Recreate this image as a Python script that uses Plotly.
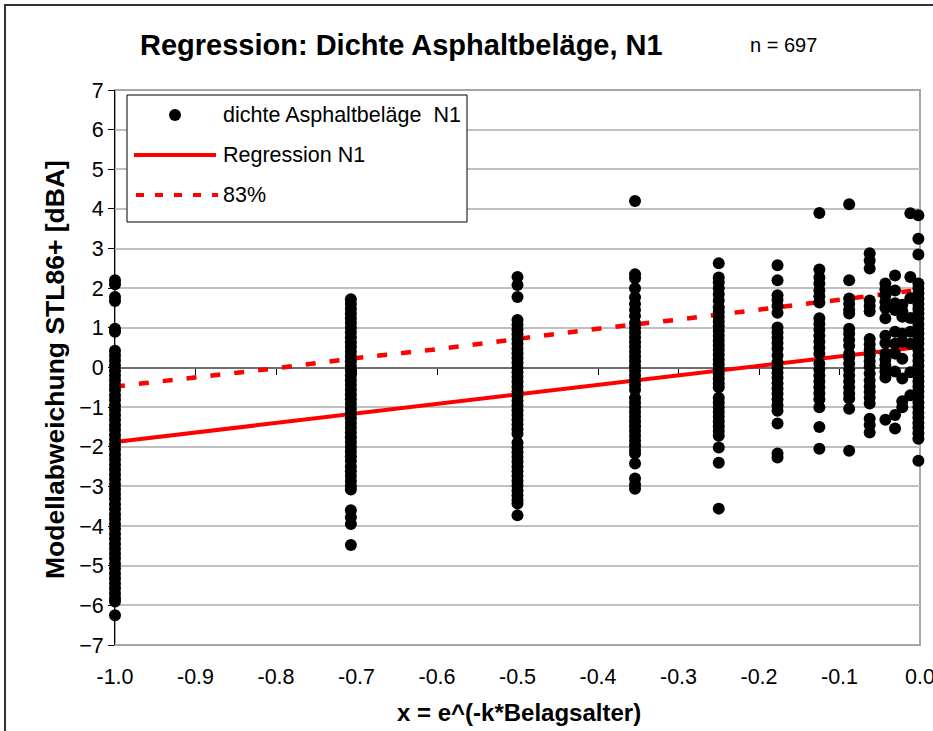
import plotly.graph_objects as go

# ---------------- data ----------------
COL_X = [-1.0, -0.707, -0.5, -0.354, -0.25, -0.177, -0.125, -0.088, -0.0625,
         -0.043, -0.031, -0.022, -0.012, -0.002]

Y_C1 = [2.2, 2.1, 1.78, 1.68, 0.98, 0.9, 0.42, 0.3, 0.18, 0.05, -0.08, -0.2, -0.32,
        -0.45, -0.57, -0.7, -0.82, -0.95, -1.07, -1.2, -1.32, -1.45, -1.57, -1.7,
        -1.82, -1.95, -2.07, -2.2, -2.32, -2.45, -2.57, -2.7, -2.82, -2.95, -3.07,
        -3.2, -3.32, -3.45, -3.57, -3.7, -3.82, -3.95, -4.07, -4.2, -4.32, -4.45,
        -4.57, -4.7, -4.82, -4.95, -5.07, -5.2, -5.32, -5.45, -5.57, -5.7, -5.82,
        -5.9, -6.25]
Y_C2 = [1.72, 1.6, 1.48, 1.36, 1.24, 1.12, 1.0, 0.88, 0.76, 0.64, 0.52, 0.4, 0.28,
        0.16, 0.04, -0.08, -0.2, -0.32, -0.44, -0.56, -0.68, -0.8, -0.92, -1.04,
        -1.16, -1.28, -1.4, -1.52, -1.64, -1.76, -1.88, -2.0, -2.12, -2.24, -2.36,
        -2.5, -2.62, -2.74, -2.86, -2.98, -3.08, -3.6, -3.78, -3.95, -4.48]
Y_C3 = [2.28, 2.08, 1.78, 1.2, 1.08, 0.96, 0.84, 0.72, 0.6, 0.48, 0.36, 0.24, 0.12,
        0.0, -0.12, -0.24, -0.36, -0.48, -0.6, -0.72, -0.84, -0.96, -1.08, -1.2,
        -1.32, -1.44, -1.56, -1.67, -1.9, -2.02, -2.14, -2.26, -2.38, -2.5, -2.62,
        -2.74, -2.86, -2.98, -3.1, -3.22, -3.34, -3.43, -3.73]
Y_C4 = [4.2, 2.35, 2.25, 2.0, 1.77, 1.6, 1.45, 1.3, 1.12, 1.0, 0.88, 0.76, 0.64,
        0.52, 0.4, 0.28, 0.16, 0.04, -0.08, -0.2, -0.32, -0.44, -0.56, -0.76, -0.88,
        -1.0, -1.12, -1.24, -1.36, -1.48, -1.6, -1.72, -1.84, -1.96, -2.08, -2.17,
        -2.42, -2.8, -2.95, -3.06]
Y_C5 = [2.63, 2.27, 2.15, 2.0, 1.85, 1.69, 1.52, 1.4, 1.28, 1.16, 1.04, 0.92, 0.8,
        0.68, 0.56, 0.44, 0.32, 0.2, 0.08, -0.04, -0.16, -0.28, -0.4, -0.5, -0.76,
        -0.88, -1.0, -1.12, -1.24, -1.36, -1.48, -1.6, -1.72, -2.02, -2.4, -3.56]
Y_C6 = [2.58, 2.2, 1.82, 1.7, 1.55, 1.38, 1.01, 0.88, 0.75, 0.62, 0.48, 0.3, 0.13,
        0.0, -0.13, -0.26, -0.4, -0.53, -0.66, -0.8, -0.95, -1.09, -1.41, -2.17, -2.27]
Y_C7 = [3.9, 2.47, 2.27, 2.12, 1.95, 1.8, 1.64, 1.24, 1.1, 0.95, 0.8, 0.65, 0.5,
        0.35, 0.1, -0.05, -0.2, -0.35, -0.5, -0.65, -0.8, -1.0, -1.5, -2.05]
Y_C8 = [4.12, 2.2, 1.74, 1.6, 1.46, 1.36, 0.98, 0.85, 0.7, 0.55, 0.35, 0.25, 0.1,
        -0.05, -0.2, -0.35, -0.5, -0.65, -0.78, -1.04, -2.1]
Y_C9 = [2.88, 2.7, 2.5, 1.69, 1.55, 1.42, 0.72, 0.58, 0.44, 0.3, 0.16, 0.02, -0.15,
        -0.33, -0.48, -0.62, -0.76, -0.91, -1.29, -1.45, -1.64]
Y_C10 = [2.12, 1.97, 1.82, 1.65, 1.5, 1.24, 0.8, 0.62, 0.35, 0.2, 0.05, -0.1, -0.25, -1.32]
Y_C11 = [2.32, 1.94, 1.62, 1.45, 0.9, 0.6, 0.35, -0.1, -1.2, -1.54]
Y_C12 = [1.58, 1.42, 1.28, 0.85, 0.65, 0.22, -0.28, -0.85, -1.0]
Y_C13 = [3.89, 2.28, 1.75, 1.25, 0.9, 0.6, -0.12, -0.7]
Y_C14 = [3.84, 3.25, 2.85, 2.12, 2.0, 1.87, 1.74, 1.6, 1.48, 1.36, 1.24, 1.1, 0.98,
         0.85, 0.72, 0.6, 0.45, 0.3, 0.17, 0.04, -0.1, -0.22, -0.35, -0.48, -0.6,
         -0.74, -0.88, -1.0, -1.14, -1.26, -1.4, -1.52, -1.66, -1.8, -2.35]

COL_Y = [Y_C1, Y_C2, Y_C3, Y_C4, Y_C5, Y_C6, Y_C7, Y_C8, Y_C9, Y_C10, Y_C11,
         Y_C12, Y_C13, Y_C14]

REG_X = [-1.0, 0.0]
REG_Y = [-1.88, 0.52]

P83_X = [-1.0, -0.9, -0.8, -0.7, -0.6, -0.5, -0.4, -0.3, -0.2, -0.1, 0.0]
P83_Y = [-0.48, -0.25, -0.02, 0.24, 0.46, 0.72, 0.98, 1.21, 1.46, 1.70, 1.96]

Y_TICKS = list(range(-7, 8))
X_TICKS = [-1.0, -0.9, -0.8, -0.7, -0.6, -0.5, -0.4, -0.3, -0.2, -0.1, 0.0]

TITLE = "Regression: Dichte Asphaltbeläge, N1"
N_TEXT = "n = 697"
X_TITLE = "x = e^(-k*Belagsalter)"
Y_TITLE = "Modellabweichung STL86+ [dBA]"
LEG_NAMES = ["dichte Asphaltbeläge  N1", "Regression N1", "83%"]

# ---------------- build ----------------
xs, ys = [], []
for cx, cy in zip(COL_X, COL_Y):
    xs.extend([cx] * len(cy))
    ys.extend(cy)

FONT = "Liberation Sans, Arial, sans-serif"
W, H = 933, 731
L, R, T, B = 115, 13, 90, 86
PW, PH = W - L - R, H - T - B


def px(xp):
    return (xp - L) / PW


def py(yp):
    return (H - B - yp) / PH


fig = go.Figure()
fig.add_trace(go.Scatter(x=REG_X, y=REG_Y, mode="lines", name=LEG_NAMES[1],
                         line=dict(color="#ff0000", width=4), showlegend=False))
fig.add_trace(go.Scatter(x=P83_X, y=P83_Y, mode="lines", name=LEG_NAMES[2],
                         line=dict(color="#ff0000", width=4.5, dash="10px,14px"),
                         showlegend=False))
fig.add_trace(go.Scatter(x=xs, y=ys, mode="markers", name=LEG_NAMES[0],
                         marker=dict(color="black", size=12, line=dict(width=0)),
                         cliponaxis=False, showlegend=False))
fig.add_trace(go.Scatter(x=[], y=[], xaxis="x2", showlegend=False))

shapes = [
    # outer chart frame
    dict(type="rect", xref="paper", yref="paper", x0=px(5), x1=px(960), y0=py(760),
         y1=py(5), line=dict(color="#333333", width=2), layer="below"),
    # plot area border
    dict(type="rect", xref="paper", yref="paper", x0=0, x1=1, y0=0, y1=1,
         line=dict(color="#a6a6a6", width=2), layer="between"),
    # legend box
    dict(type="rect", xref="paper", yref="paper", x0=px(127), x1=px(467),
         y0=py(222), y1=py(95), line=dict(color="black", width=1),
         fillcolor="white", layer="above"),
    dict(type="circle", xref="paper", yref="paper", xsizemode="pixel",
         ysizemode="pixel", xanchor=px(175), yanchor=py(115), x0=-6, x1=6, y0=-6,
         y1=6, fillcolor="black", line=dict(width=0), layer="above"),
    dict(type="line", xref="paper", yref="paper", x0=px(134), x1=px(216),
         y0=py(155), y1=py(155), line=dict(color="#ff0000", width=4), layer="above"),
    dict(type="line", xref="paper", yref="paper", x0=px(136), x1=px(218),
         y0=py(195), y1=py(195), line=dict(color="#ff0000", width=4, dash="8px,11px"),
         layer="above"),
]

annotations = [
    dict(text=f"<b>{TITLE}</b>", xref="paper", yref="paper", x=px(401), y=py(45),
         showarrow=False, font=dict(size=29, family=FONT, color="black"),
         xanchor="center", yanchor="middle"),
    dict(text=N_TEXT, xref="paper", yref="paper", x=px(783), y=py(45),
         showarrow=False, font=dict(size=20, family=FONT, color="black"),
         xanchor="center", yanchor="middle"),
    dict(text=f"<b>{X_TITLE}</b>", xref="paper", yref="paper", x=px(519), y=py(712),
         showarrow=False, font=dict(size=24, family=FONT, color="black"),
         xanchor="center", yanchor="middle"),
    dict(text=f"<b>{Y_TITLE}</b>", xref="paper", yref="paper", x=px(55), y=py(370),
         showarrow=False, textangle=-90, font=dict(size=26.5, family=FONT, color="black"),
         xanchor="center", yanchor="middle"),
]
for i, (name, yy) in enumerate(zip(LEG_NAMES, [115, 155, 195])):
    annotations.append(dict(text=name, xref="paper", yref="paper", x=px(221), y=py(yy),
                            showarrow=False, xanchor="left", yanchor="middle",
                            font=dict(size=21.5, family=FONT, color="black")))

fig.update_layout(
    width=W, height=H,
    margin=dict(l=L, r=R, t=T, b=B, pad=0, autoexpand=False),
    paper_bgcolor="white", plot_bgcolor="white",
    font=dict(family=FONT, color="black"),
    shapes=shapes, annotations=annotations,
    showlegend=False,
    xaxis=dict(range=[-1.0, 0.0], tickvals=X_TICKS, ticktext=[f"{v:.1f}" for v in X_TICKS],
               showgrid=False, zeroline=False, showline=False, ticks="",
               ticklabelstandoff=16, ticklabeloverflow="allow", automargin=False,
               tickfont=dict(size=21.5, family=FONT)),
    xaxis2=dict(range=[-1.0, 0.0], overlaying="x", anchor="free", position=0.5,
                side="bottom", showline=True, linecolor="#6e6e6e", linewidth=2,
                ticks="outside", ticklen=6, tickcolor="black", tickwidth=1,
                dtick=0.1, tick0=0, showticklabels=False, showgrid=False,
                zeroline=False, layer="below traces", automargin=False),
    yaxis=dict(range=[-7, 7], tickvals=Y_TICKS, showgrid=True, gridcolor="#c0c0c0",
               gridwidth=2, zeroline=False, showline=True, linecolor="black",
               linewidth=1, ticks="outside", ticklen=6, tickcolor="black",
               automargin=False,
               tickfont=dict(size=21.5, family=FONT), layer="below traces"),
)

fig.write_html("out.html")
